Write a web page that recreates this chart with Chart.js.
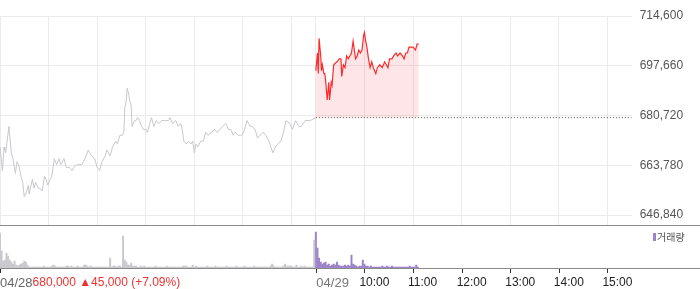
<!DOCTYPE html>
<html><head><meta charset="utf-8">
<script src="https://cdn.jsdelivr.net/npm/chart.js@4/dist/chart.umd.min.js"></script>
<style>
html,body{margin:0;padding:0;background:#fff;}
#wrap{position:relative;width:700px;height:289px;overflow:hidden;}
canvas{position:absolute;left:0;top:0;}
</style></head><body>
<div id="wrap"><canvas id="price" width="700" height="289"></canvas><canvas id="vol" width="700" height="289"></canvas></div>
<script>
// ---- data (x = minutes since 04/28 09:00, 04/29 09:00 = 390) ----
const prevDayTimes = [0,3,5,6,7,11,14,16,19,21,23,26,28,30,33,35,36,40,42,44,47,49,52,55,57,59,62,64,67,70,73,75,79,82,86,89,91,95,101,105,109,113,117,120,123,126,130,132,136,139,143,145,148,151,153,154,156,157,159,160,162,163,166,168,170,172,175,177,180,182,185,187,190,193,196,200,203,208,210,213,217,220,223,225,227,230,233,236,238,240,242,244,248,251,254,257,261,265,268,272,275,279,282,285,288,290,294,297,299,302,305,309,311,315,318,321,325,328,332,337,340,343,347,350,353,358,361,365,369,372,377,383,390];
const prevDayPrices = [670000,662000,670000,669000,668000,677000,668000,666000,661000,665000,
664000,660000,658000,653000,655000,657000,654000,659000,656000,658000,
656000,656000,655000,660000,659000,657000,659000,660000,666000,664000,
666000,664000,666000,663000,663000,662000,663000,664000,664000,666000,
669000,667000,666000,663000,662000,665000,667000,669000,667000,670000,
672000,671000,674000,674000,675000,683000,686000,690000,688000,686000,
684000,677000,679000,679000,680000,679000,677000,676000,676000,675000,
678000,680000,677000,679000,678000,679000,679000,679000,680000,678000,
679000,677000,678000,676000,672000,671000,672000,671000,672000,668000,
671000,670000,672000,672000,675000,674000,675000,676000,675000,676000,
677000,678000,676000,676000,674000,675000,674000,674000,674000,676000,
679000,677000,677000,676000,673000,674000,675000,674000,672000,668000,
670000,671000,672000,675000,679000,678000,676000,679000,677000,677000,
679000,679000,680000];
const todayTimes = [390,392,393,394,396,397,398,400,401,402,404,406,407,409,410,412,416,419,421,422,424,426,428,430,432,434,436,439,441,443,445,447,449,450,451,453,455,457,459,461,464,466,469,472,475,477,479,481,484,486,489,491,494,497,499,501,503,505,508,510,513,515,517];
const todayPrices = [696000,702000,695000,707000,701000,696000,698000,695000,695000,693000,
686000,692000,686000,692000,691000,698000,699000,700000,700000,694000,
698000,697000,701000,700000,701000,702000,706000,700000,701000,703000,
702000,703000,708000,709000,707000,704000,700000,697000,699000,697000,
695000,697000,698000,697000,699000,698000,697000,700000,700000,701000,
702000,701000,702000,701000,700000,702000,702000,704000,704000,704000,
703000,705000,705000];
const prevClose = 680000;
const yTicks = [714600,697660,680720,663780,646840];
const gridTimes = [0,60,120,180,240,300,360,390,450,510,570,630,690,750];
const axisTickTimes = [0,390,450,510,570,630,690,750];
const timeLabels = ['10:00','11:00','12:00','13:00','14:00','15:00'];
const timeLabelTimes = [450,510,570,630,690,750];
const dayLabels = ['04/28','04/29'];
const dayLabelTimes = [0,390];
const summaryText = '680,000 ▲45,000 (+7.09%)';
const legendText = '거래량';
// volume in 2-minute bins
const prevVolStart = 0, todayVolStart = 390, volStep = 2;
const prevDayVolumes = [35,17,7,8,15,12,8,6,4,7,
3,2,3,4,5,7,6,3,1,1,
1,1,1,1,1,1,1,2,1,1,
1,1,2,3,2,1,1,1,1,1,
1,2,2,1,2,1,1,1,2,1,
1,1,3,3,2,1,2,1,1,1,
1,1,1,1,1,1,1,1,10,1,
2,2,1,2,2,1,32,8,6,3,
3,5,2,2,2,1,1,2,1,2,
1,1,1,1,1,1,2,1,1,1,
1,1,1,2,1,1,1,1,1,1,
1,1,1,2,2,2,1,1,1,3,
1,2,1,1,1,1,1,1,2,1,
1,1,1,2,1,1,1,1,1,1,
2,1,1,1,1,1,2,1,1,1,
1,2,1,1,1,1,1,2,1,1,
1,1,1,1,1,1,1,2,4,2,
1,1,1,1,1,2,4,2,2,2,
2,1,1,3,1,1,2,1,2,1,
1,1,1,1,28];
const todayVolumes = [36,20,10,6,4,5,6,3,4,2,
3,4,3,6,3,2,2,2,3,2,
3,2,13,4,3,2,1,2,2,8,
4,2,2,1,2,1,1,1,1,1,
1,2,1,1,2,1,1,2,1,1,
1,1,1,1,1,1,1,1,2,1,
1,1,3,1];

const X_MAX = 780, Y_MAX = 714600, Y_MIN = 643440, V_MAX = 41;
const RIGHT_W = 68.3;

const pts = (ts, vs) => ts.map((t,i)=>({x:t,y:vs[i]}));
const volPts = (start, vs) => vs.map((v,i)=>({x:start+i*volStep,y:v}));

new Chart(document.getElementById('price'), {
  type:'line',
  data:{datasets:[
    {data:pts(prevDayTimes,prevDayPrices), borderColor:'#c8c8cd', borderWidth:1, pointRadius:0, fill:false, tension:0, order:3},
    {data:pts([390,780],[prevClose,prevClose]), borderColor:'#555', borderWidth:1, borderDash:[1,2], pointRadius:0, fill:false, order:2},
    {data:pts(todayTimes,todayPrices), borderColor:'#ff2a2a', borderWidth:1.2, pointRadius:0, tension:0,
     fill:{value:prevClose}, backgroundColor:'rgba(250,60,75,0.13)', order:1}
  ]},
  options:{
    responsive:false, animation:false, events:[],
    layout:{padding:{top:16,bottom:289-225,left:0,right:0}},
    plugins:{legend:{display:false},tooltip:{enabled:false}},
    scales:{
      x:{type:'linear',min:0,max:X_MAX,offset:false,
        afterBuildTicks(s){s.ticks=gridTimes.map(v=>({value:v}));},
        afterFit(s){s.height=0;},
        ticks:{display:false},
        grid:{color:'#ebebeb',drawTicks:false},
        border:{display:false}},
      y:{position:'right',min:Y_MIN,max:Y_MAX,
        afterBuildTicks(s){s.ticks=yTicks.map(v=>({value:v}));},
        afterFit(s){s.width=RIGHT_W;},
        ticks:{padding:8,color:'#555',font:{family:'"Liberation Sans", Arial, sans-serif',size:12},
          callback:v=>Number(v).toLocaleString('en-US')},
        grid:{color:'#ebebeb',drawTicks:false},
        border:{display:false}}
    }
  }
});

const volDecor = {
  id:'volDecor',
  afterDraw(chart){
    const ctx = chart.ctx, x = chart.scales.x;
    ctx.save();
    ctx.lineWidth = 1;
    ctx.strokeStyle = '#8a8a8a';
    ctx.beginPath(); ctx.moveTo(0,225.5); ctx.lineTo(700,225.5); ctx.stroke();
    ctx.beginPath(); ctx.moveTo(0,268.5); ctx.lineTo(700,268.5); ctx.stroke();
    ctx.strokeStyle = '#333';
    axisTickTimes.forEach(t=>{
      const px = Math.round(x.getPixelForValue(t))+0.5;
      ctx.beginPath(); ctx.moveTo(px,269); ctx.lineTo(px,273); ctx.stroke();
    });
    ctx.textBaseline = 'middle';
    ctx.textAlign = 'left';
    const y = 283;
    ctx.font = '13px "Liberation Sans", Arial, sans-serif';
    ctx.fillStyle = '#666';
    const x0 = x.getPixelForValue(dayLabelTimes[0]);
    ctx.fillText(dayLabels[0], x0, y);
    const w0 = ctx.measureText(dayLabels[0]).width;
    ctx.font = '12px "Liberation Sans", Arial, sans-serif';
    ctx.fillStyle = '#f03232';
    ctx.fillText(summaryText, x0 + w0, y);
    ctx.font = '13px "Liberation Sans", Arial, sans-serif';
    ctx.fillStyle = '#777';
    ctx.fillText(dayLabels[1], x.getPixelForValue(dayLabelTimes[1])+0.5, y);
    ctx.font = '12px "Liberation Sans", Arial, sans-serif';
    ctx.fillStyle = '#222';
    timeLabels.forEach((lab,i)=>{
      ctx.fillText(lab, x.getPixelForValue(timeLabelTimes[i])-5, y);
    });
    // legend
    ctx.fillStyle = '#9b82c9';
    ctx.fillRect(653,233,3,8);
    ctx.font = '10px "Noto Sans CJK KR", sans-serif';
    ctx.fillStyle = '#555';
    ctx.fillText(legendText, 657, 237.5);
    ctx.restore();
  }
};

new Chart(document.getElementById('vol'), {
  type:'bar',
  data:{datasets:[
    {data:volPts(prevVolStart,prevDayVolumes), backgroundColor:'#c8c8cd', barThickness:1.3, grouped:false},
    {data:volPts(todayVolStart,todayVolumes), backgroundColor:'#9b82c9', barThickness:1.3, grouped:false}
  ]},
  options:{
    responsive:false, animation:false, events:[],
    layout:{padding:{top:227,bottom:21,left:0,right:RIGHT_W}},
    plugins:{legend:{display:false},tooltip:{enabled:false}},
    scales:{
      x:{type:'linear',min:0,max:X_MAX,offset:false,display:false},
      y:{min:0,max:V_MAX,display:false}
    }
  },
  plugins:[volDecor]
});
</script>
</body></html>
